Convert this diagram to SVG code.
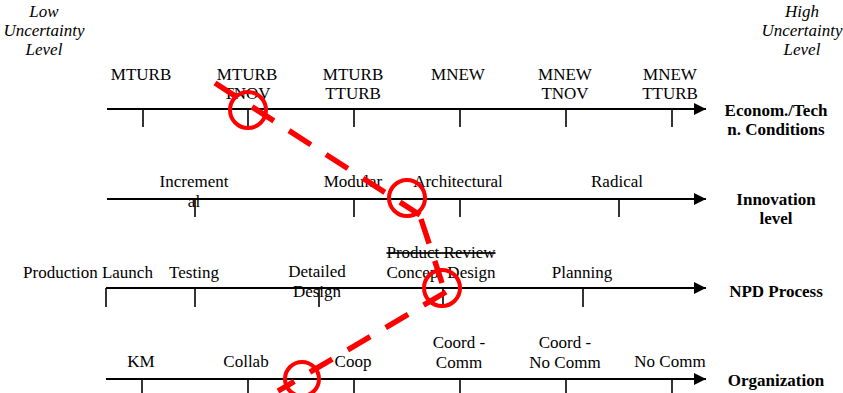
<svg xmlns="http://www.w3.org/2000/svg" width="843" height="393" viewBox="0 0 843 393">
<style>
text{font-family:'Liberation Serif',serif;font-size:17px;fill:#000;text-anchor:middle}
.it{font-style:italic}
.b{font-weight:bold}
.axis{stroke:#000;stroke-width:2;fill:none}
.tick{stroke:#000;stroke-width:1.6}
.dash{stroke:#ff0000;stroke-width:5.5;fill:none;stroke-dasharray:26 18}
.ring{stroke:#ff0000;stroke-width:4;fill:none}
.strike{text-decoration:line-through}
</style>
<defs>
<marker id="arr" markerWidth="12" markerHeight="12" refX="12" refY="6" orient="auto" markerUnits="userSpaceOnUse">
<path d="M0,0 L12,6 L0,12 Z" fill="#000"/>
</marker>
</defs>
<rect width="843" height="393" fill="#fff"/>
<g font-family="Liberation Serif, serif">
<g id="low-label">
<text class="it" x="44" y="17">Low</text>
<text class="it" x="44" y="36">Uncertainty</text>
<text class="it" x="44" y="55">Level</text>
</g>
<g id="high-label">
<text class="it" x="802" y="17">High</text>
<text class="it" x="802" y="36">Uncertainty</text>
<text class="it" x="802" y="55">Level</text>
</g>

<g id="row-econ">
<line class="axis" x1="107" y1="109" x2="706" y2="109" marker-end="url(#arr)"/>
<line class="tick" x1="143" y1="109" x2="143" y2="127"/>
<line class="tick" x1="248" y1="109" x2="248" y2="127"/>
<line class="tick" x1="354" y1="109" x2="354" y2="127"/>
<line class="tick" x1="460" y1="109" x2="460" y2="127"/>
<line class="tick" x1="566" y1="109" x2="566" y2="127"/>
<line class="tick" x1="672" y1="109" x2="672" y2="127"/>
<text x="141" y="80">MTURB</text>
<text x="247" y="80">MTURB</text><text x="247" y="99">TNOV</text>
<text x="353" y="80">MTURB</text><text x="353" y="99">TTURB</text>
<text x="458" y="80">MNEW</text>
<text x="565" y="80">MNEW</text><text x="565" y="99">TNOV</text>
<text x="670" y="80">MNEW</text><text x="670" y="99">TTURB</text>
<text class="b" x="776" y="116">Econom./Tech</text>
<text class="b" x="776" y="135">n. Conditions</text>
</g>

<g id="row-innovation">
<line class="axis" x1="107" y1="199" x2="706" y2="199" marker-end="url(#arr)"/>
<line class="tick" x1="195" y1="199" x2="195" y2="217"/>
<line class="tick" x1="354" y1="199" x2="354" y2="217"/>
<line class="tick" x1="460" y1="199" x2="460" y2="217"/>
<line class="tick" x1="619" y1="199" x2="619" y2="217"/>
<text x="194" y="187">Increment</text>
<text x="194" y="207">al</text>
<text x="353" y="187">Modular</text>
<text x="458" y="187">Architectural</text>
<text x="617" y="187">Radical</text>
<text class="b" x="776" y="205">Innovation</text>
<text class="b" x="776" y="224">level</text>
</g>

<g id="row-npd">
<line class="axis" x1="106" y1="288" x2="706" y2="288" marker-end="url(#arr)"/>
<line class="tick" x1="106" y1="288" x2="106" y2="307"/>
<line class="tick" x1="195" y1="288" x2="195" y2="307"/>
<line class="tick" x1="319" y1="288" x2="319" y2="307"/>
<line class="tick" x1="443" y1="288" x2="443" y2="307"/>
<line class="tick" x1="583" y1="288" x2="583" y2="307"/>
<text x="88" y="278">Production Launch</text>
<text x="194" y="278">Testing</text>
<text x="317" y="277">Detailed</text>
<text x="317" y="297">Design</text>
<text class="strike" x="441" y="258">Product Review</text>
<text x="441" y="278">Concept Design</text>
<text x="582" y="278">Planning</text>
<text class="b" x="776" y="297">NPD Process</text>
</g>

<g id="row-organization">
<line class="axis" x1="106" y1="379" x2="706" y2="379" marker-end="url(#arr)"/>
<line class="tick" x1="142" y1="379" x2="142" y2="393"/>
<line class="tick" x1="248" y1="379" x2="248" y2="393"/>
<line class="tick" x1="354" y1="379" x2="354" y2="393"/>
<line class="tick" x1="460" y1="379" x2="460" y2="393"/>
<line class="tick" x1="566" y1="379" x2="566" y2="393"/>
<line class="tick" x1="672" y1="379" x2="672" y2="393"/>
<text x="141" y="367">KM</text>
<text x="246" y="367">Collab</text>
<text x="353" y="367">Coop</text>
<text x="459" y="348">Coord -</text><text x="459" y="368">Comm</text>
<text x="565" y="348">Coord -</text><text x="565" y="368">No Comm</text>
<text x="670" y="367">No Comm</text>
<text class="b" x="776" y="386">Organization</text>
</g>
</g>

<g id="path-connectors">
<line class="dash" x1="215" y1="83" x2="420" y2="215"/>
<line class="dash" x1="421" y1="219" x2="442" y2="283"/>
<line class="dash" x1="446" y1="292" x2="278" y2="391"/>
<circle class="ring" cx="248" cy="110" r="18"/>
<circle class="ring" cx="407" cy="198" r="18"/>
<circle class="ring" cx="442" cy="288" r="18"/>
<circle class="ring" cx="302" cy="379" r="17"/>
</g>
</svg>
